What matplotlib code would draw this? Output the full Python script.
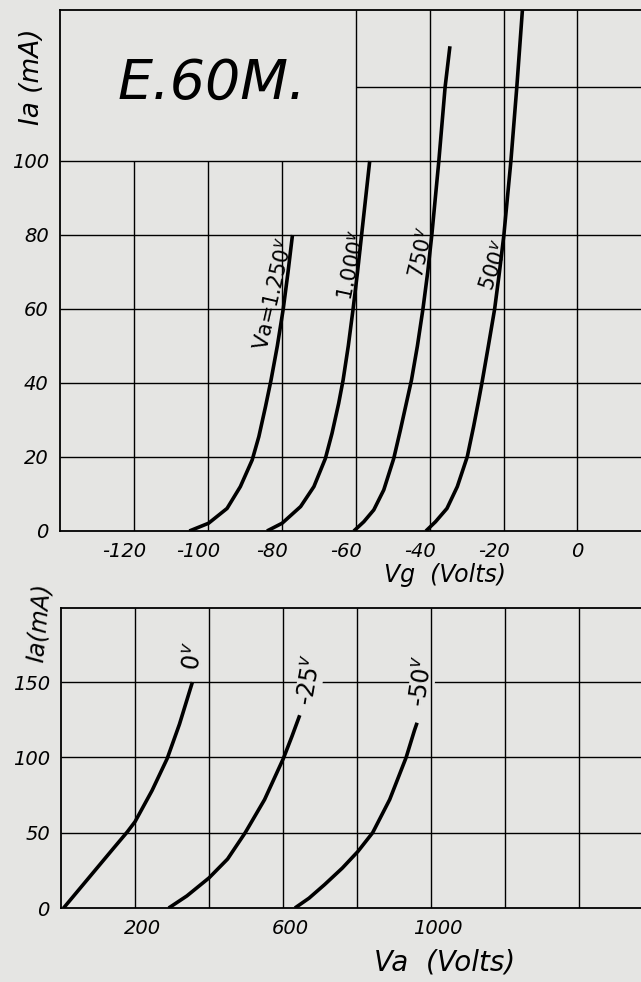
import matplotlib.pyplot as plt
from matplotlib.transforms import ScaledTranslation

# transfer characteristics Ia = f(Vg), one curve per anode voltage
vg_1250 = [-105, -99.8, -94.8, -91.2, -88.0, -86.2, -84.4, -82.9, -81.2, -79.6, -78.3, -77.1]
ia_1250 = [0, 2.1, 6.1, 12, 19.2, 25.5, 33.6, 40.8, 50, 60, 70, 80]
vg_1000 = [-84, -79.9, -74.9, -71.3, -68.2, -66.4, -64.6, -63.4, -62.0, -60.7, -59.5, -58.4, -57.3, -56.2]
ia_1000 = [0, 2.1, 6.6, 12, 19.6, 26.4, 34.5, 40.8, 50, 60, 70, 80, 90, 100]
vg_750 = [-60.5, -57.8, -55.1, -52.4, -49.7, -47.9, -46.1, -44.9, -43.3, -41.8, -40.5, -39.4, -37.5, -35.8, -34.5]
ia_750 = [0, 2.5, 5.7, 11.1, 19.6, 27.3, 35.4, 40.8, 50, 60, 70, 80, 100, 120, 131]
vg_500 = [-41, -38.4, -35.3, -32.5, -29.8, -28.1, -26.7, -25.7, -24.1, -22.4, -21.1, -19.9, -18.0, -16.4, -14.8]
ia_500 = [0, 2.5, 6.1, 12, 20.1, 28.2, 35.4, 40.8, 50, 60, 70, 80, 100, 120, 142]

# anode characteristics Ia = f(Va), one curve per grid voltage
va_0 = [7, 75, 143, 179, 200, 246, 287, 320, 355]
ia_0 = [0, 20, 40, 50.5, 57.3, 78, 99.3, 122, 150]
va_25 = [291, 340, 400, 450, 497.7, 550, 600.8, 624, 645]
ia_25 = [0, 8, 20, 32.5, 50, 72, 99.3, 114, 128]
va_50 = [632, 670, 712, 760, 802, 842, 888, 932.5, 955, 962]
ia_50 = [0, 6.5, 15.5, 26.5, 37.5, 50, 72, 100, 118, 123]

top_xticks = [-120, -100, -80, -60, -40, -20, 0]
top_xlabels = ["-120", "-100", "-80", "-60", "-40", "-20", "0"]
top_yticks = [0, 20, 40, 60, 80, 100]
top_grid_y = [20, 40, 60, 80, 100, 120]
bot_grid_x = [200, 400, 600, 800, 1000, 1200, 1400]
bot_xticks = [200, 600, 1000]
bot_yticks = [0, 50, 100, 150]

top_curves = [
    (vg_1250, ia_1250, "Va=1.250$^v$", -84.0, 48.5, 77),
    (vg_1000, ia_1000, "1.000$^v$", -61.2, 62, 78),
    (vg_750, ia_750, "750$^v$", -42.0, 68, 77),
    (vg_500, ia_500, "500$^v$", -23.0, 64.5, 71),
]
bot_curves = [
    (va_0, ia_0, "0$^v$", 372, 157, 80),
    (va_25, ia_25, "-25$^v$", 680, 134, 80),
    (va_50, ia_50, "-50$^v$", 985, 133, 82),
]

bg = "#e5e5e3"
plt.rcParams["font.family"] = "DejaVu Sans"
plt.rcParams["font.style"] = "italic"
plt.rcParams["mathtext.default"] = "it"

fig = plt.figure(figsize=(6.41, 9.82), dpi=100, facecolor=bg)


def shift(labels, dx):
    for lbl in labels:
        lbl.set_transform(lbl.get_transform() + ScaledTranslation(dx / 100, 0, fig.dpi_scale_trans))


def style(ax):
    ax.set_facecolor(bg)
    for s in ["left", "bottom", "top"]:
        ax.spines[s].set_linewidth(1.3)
    ax.spines["right"].set_visible(False)
    ax.tick_params(length=0, labelsize=14, pad=8)


# ---- top panel
ax1 = fig.add_axes([60 / 641, 451 / 982, 581 / 641, 521 / 982])
style(ax1)
ax1.set_xlim(-140, 17.2)
ax1.set_ylim(0, 140.8)
box_x, box_y = -60, 100  # empty title box in the upper left corner
for x in top_xticks:
    ax1.vlines(x, 0, box_y if x < box_x else 140.8, color="k", lw=1.0)
for y in top_grid_y:
    ax1.hlines(y, box_x if y > box_y else -140, 17.2, color="k", lw=1.0)

for xs, ys, lab, lx, ly, rot in top_curves:
    ax1.plot(xs, ys, color="k", lw=2.6, solid_capstyle="butt", solid_joinstyle="round")
    ax1.text(lx, ly, lab, rotation=rot, rotation_mode="anchor", ha="left",
             va="baseline", fontsize=15, fontstyle="normal")

ax1.text(-99, 121, "E.60M.", fontsize=40, ha="center", va="center")
ax1.set_xticks(top_xticks, top_xlabels)
ax1.set_yticks(top_yticks)
shift(ax1.get_xticklabels()[:-1], -10)
ax1.set_xlabel("Vg  (Volts)", fontsize=17, va="center")
ax1.xaxis.set_label_coords(0.663, -0.084)
ax1.set_ylabel("Ia (mA)", fontsize=19, va="center")
ax1.yaxis.set_label_coords(-0.048, 0.871)

# ---- bottom panel
ax2 = fig.add_axes([61 / 641, 74 / 982, 580 / 641, 300 / 982])
style(ax2)
ax2.set_xlim(0, 1567)
ax2.set_ylim(0, 199.2)
ax2.vlines(bot_grid_x, 0, 199.2, color="k", lw=1.0, zorder=3)
ax2.hlines(bot_yticks[1:], 0, 1567, color="k", lw=1.0, zorder=1)

for xs, ys, lab, lx, ly, rot in bot_curves:
    ax2.plot(xs, ys, color="k", lw=2.6, solid_capstyle="butt", solid_joinstyle="round", zorder=2)
    ax2.text(lx, ly, lab, rotation=rot, rotation_mode="anchor", ha="left",
             va="baseline", fontsize=17, fontstyle="normal", zorder=2.5,
             bbox=dict(facecolor=bg, edgecolor="none", pad=0.5))

ax2.set_xticks(bot_xticks)
ax2.set_yticks(bot_yticks)
shift(ax2.get_xticklabels(), 7)
ax2.set_xlabel("Va  (Volts)", fontsize=20, va="center")
ax2.xaxis.set_label_coords(0.662, -0.183)
ax2.set_ylabel("Ia(mA)", fontsize=17, rotation=85, va="center")
ax2.yaxis.set_label_coords(-0.038, 0.95)

fig.savefig("out.png", dpi=100, facecolor=bg)
